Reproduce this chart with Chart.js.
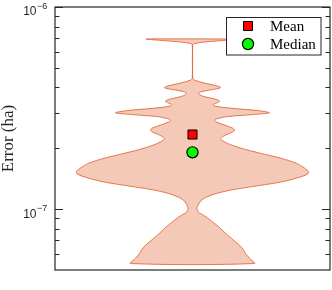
<!DOCTYPE html>
<html>
<head>
<meta charset="utf-8">
<script src="https://cdn.jsdelivr.net/npm/chart.js@4.4.1/dist/chart.umd.min.js"></script>
<style>
  html, body { margin: 0; padding: 0; background: #fff; }
</style>
</head>
<body>
<canvas id="chart" width="332" height="290"></canvas>
<script>
// Violin profile: error level (ha), top to bottom, and relative half-width of the density there
const errorLevels = [
    6.944e-7, 6.827e-7, 6.71e-7, 6.597e-7, 6.486e-7, 4.451e-7, 4.35e-7, 4.205e-7, 4.063e-7, 3.985e-7,
    3.904e-7, 3.816e-7, 3.739e-7, 3.626e-7, 3.505e-7, 3.426e-7, 3.349e-7, 3.299e-7, 3.236e-7, 3.152e-7,
    3.074e-7, 2.998e-7, 2.937e-7, 2.871e-7, 2.805e-7, 2.758e-7, 2.696e-7, 2.605e-7, 2.518e-7, 2.461e-7,
    2.406e-7, 2.325e-7, 2.239e-7, 2.196e-7, 2.115e-7, 2.004e-7, 1.887e-7, 1.788e-7, 1.684e-7, 1.596e-7,
    1.533e-7, 1.49e-7, 1.424e-7, 1.361e-7, 1.289e-7, 1.242e-7, 1.196e-7, 1.147e-7, 1.108e-7, 1.059e-7,
    1.008e-7, 9.663e-8, 9.34e-8, 8.82e-8, 8.026e-8, 7.435e-8, 6.888e-8, 6.484e-8, 6.034e-8, 5.719e-8,
    5.384e-8
];
const halfWidths = [
    0.397, 0.259, 0.103, 0.017, 0.002, 0.002, 0.017, 0.103, 0.216, 0.241,
    0.172, 0.078, 0.052, 0.086, 0.19, 0.233, 0.207, 0.181, 0.19, 0.345,
    0.56, 0.664, 0.517, 0.302, 0.216, 0.19, 0.207, 0.276, 0.345, 0.362,
    0.345, 0.284, 0.241, 0.25, 0.302, 0.414, 0.59, 0.759, 0.897, 0.966,
    1.0, 0.991, 0.897, 0.759, 0.5, 0.328, 0.207, 0.121, 0.078, 0.052,
    0.039, 0.052, 0.095, 0.155, 0.241, 0.302, 0.371, 0.422, 0.457, 0.491,
    0.534
];
const meanError = 2.34e-7;
const medianError = 1.91e-7;

// y axis ticks
const majorTicks = [1e-7, 1e-6];
const majorTickLabels = ['10^\u22127', '10^\u22126'];
const minorTicks = [6e-8, 7e-8, 8e-8, 9e-8, 2e-7, 3e-7, 4e-7, 5e-7, 6e-7, 7e-7, 8e-7, 9e-7];

// closed outline: right side going down, left side coming back up
const outline = [];
errorLevels.forEach((e, i) => outline.push({ x: halfWidths[i], y: e }));
for (let i = errorLevels.length - 1; i >= 0; i--) outline.push({ x: -halfWidths[i], y: errorLevels[i] });
outline.push(outline[0]);

const AXIS = '#262626';

const frame = {
    id: 'frame',
    afterDraw(chart) {
        const { ctx, chartArea: a, scales: { y } } = chart;
        ctx.save();

        // ── box + inward ticks ─────────────────────────────
        ctx.strokeStyle = AXIS;
        ctx.lineWidth = 1.2;
        ctx.strokeRect(a.left, a.top, a.right - a.left, a.bottom - a.top);
        ctx.lineWidth = 1;
        const tick = (v, len) => {
            const py = Math.round(y.getPixelForValue(v)) + 0.5;
            ctx.beginPath();
            ctx.moveTo(a.left, py); ctx.lineTo(a.left + len, py);
            ctx.moveTo(a.right, py); ctx.lineTo(a.right - len, py);
            ctx.stroke();
        };
        minorTicks.forEach(v => tick(v, 4.5));
        majorTicks.forEach(v => tick(v, 8));

        // ── tick labels with superscript ───────────────────
        ctx.fillStyle = AXIS;
        ctx.textBaseline = 'alphabetic';
        majorTicks.forEach((v, i) => {
            const py = y.getPixelForValue(v);
            const [base, exp] = majorTickLabels[i].split('^');
            ctx.font = '12px "Liberation Sans", Arial, sans-serif';
            ctx.textAlign = 'right';
            ctx.fillText(base, 36.5, py + 8.4);
            ctx.font = '9px "Liberation Sans", Arial, sans-serif';
            ctx.textAlign = 'left';
            ctx.fillText(exp, 37, py + 2);
        });

        // ── y title ────────────────────────────────────────
        ctx.save();
        ctx.translate(12.5, (a.top + a.bottom) / 2);
        ctx.rotate(-Math.PI / 2);
        ctx.textAlign = 'center';
        ctx.font = '17px "Liberation Serif", serif';
        ctx.fillStyle = AXIS;
        ctx.fillText('Error (ha)', 0, 0);
        ctx.restore();

        // ── legend ─────────────────────────────────────────
        ctx.fillStyle = '#fff';
        ctx.fillRect(226.5, 17.5, 94.5, 37.5);
        ctx.strokeStyle = AXIS;
        ctx.lineWidth = 1;
        ctx.strokeRect(226.5, 17.5, 94.5, 37.5);
        const rows = [0, 1].map(i => chart.data.datasets[i]);
        rows.forEach((ds, i) => {
            const cy = 26 + i * 18;
            ctx.fillStyle = ds.backgroundColor;
            ctx.strokeStyle = ds.borderColor;
            ctx.lineWidth = ds.borderWidth;
            ctx.beginPath();
            if (ds.pointStyle === 'rect') {
                ctx.rect(248 - 4.5, cy - 4.5, 9, 9);
            } else {
                ctx.arc(248, cy, ds.pointRadius, 0, Math.PI * 2);
            }
            ctx.fill();
            ctx.stroke();
            ctx.fillStyle = '#000';
            ctx.font = '15px "Liberation Serif", serif';
            ctx.textAlign = 'left';
            ctx.fillText(ds.label, 270, cy + 4.8);
        });
        ctx.restore();
    }
};

new Chart(document.getElementById('chart'), {
    type: 'scatter',
    data: {
        datasets: [
            {
                label: 'Mean',
                data: [{ x: 0, y: meanError }],
                pointStyle: 'rect',
                pointRadius: 6.4,
                backgroundColor: '#ff0000',
                borderColor: '#000',
                borderWidth: 1
            },
            {
                label: 'Median',
                data: [{ x: 0, y: medianError }],
                pointStyle: 'circle',
                pointRadius: 5.6,
                backgroundColor: '#00ff00',
                borderColor: '#000',
                borderWidth: 1.2
            },
            {
                label: 'Distribution',
                data: outline,
                showLine: true,
                fill: 'shape',
                tension: 0.3,
                pointRadius: 0,
                borderWidth: 1,
                borderColor: 'rgba(225, 100, 50, 0.85)',
                backgroundColor: '#f4c9b8'
            }
        ]
    },
    options: {
        responsive: false,
        animation: false,
        layout: { autoPadding: false, padding: { left: 55, top: 7, right: 2, bottom: 20 } },
        plugins: { legend: { display: false }, tooltip: { enabled: false } },
        scales: {
            x: { type: 'linear', min: -1.185, max: 1.185, display: false },
            y: { type: 'logarithmic', min: 5e-8, max: 1e-6, display: false }
        }
    },
    plugins: [frame]
});
</script>
</body>
</html>
